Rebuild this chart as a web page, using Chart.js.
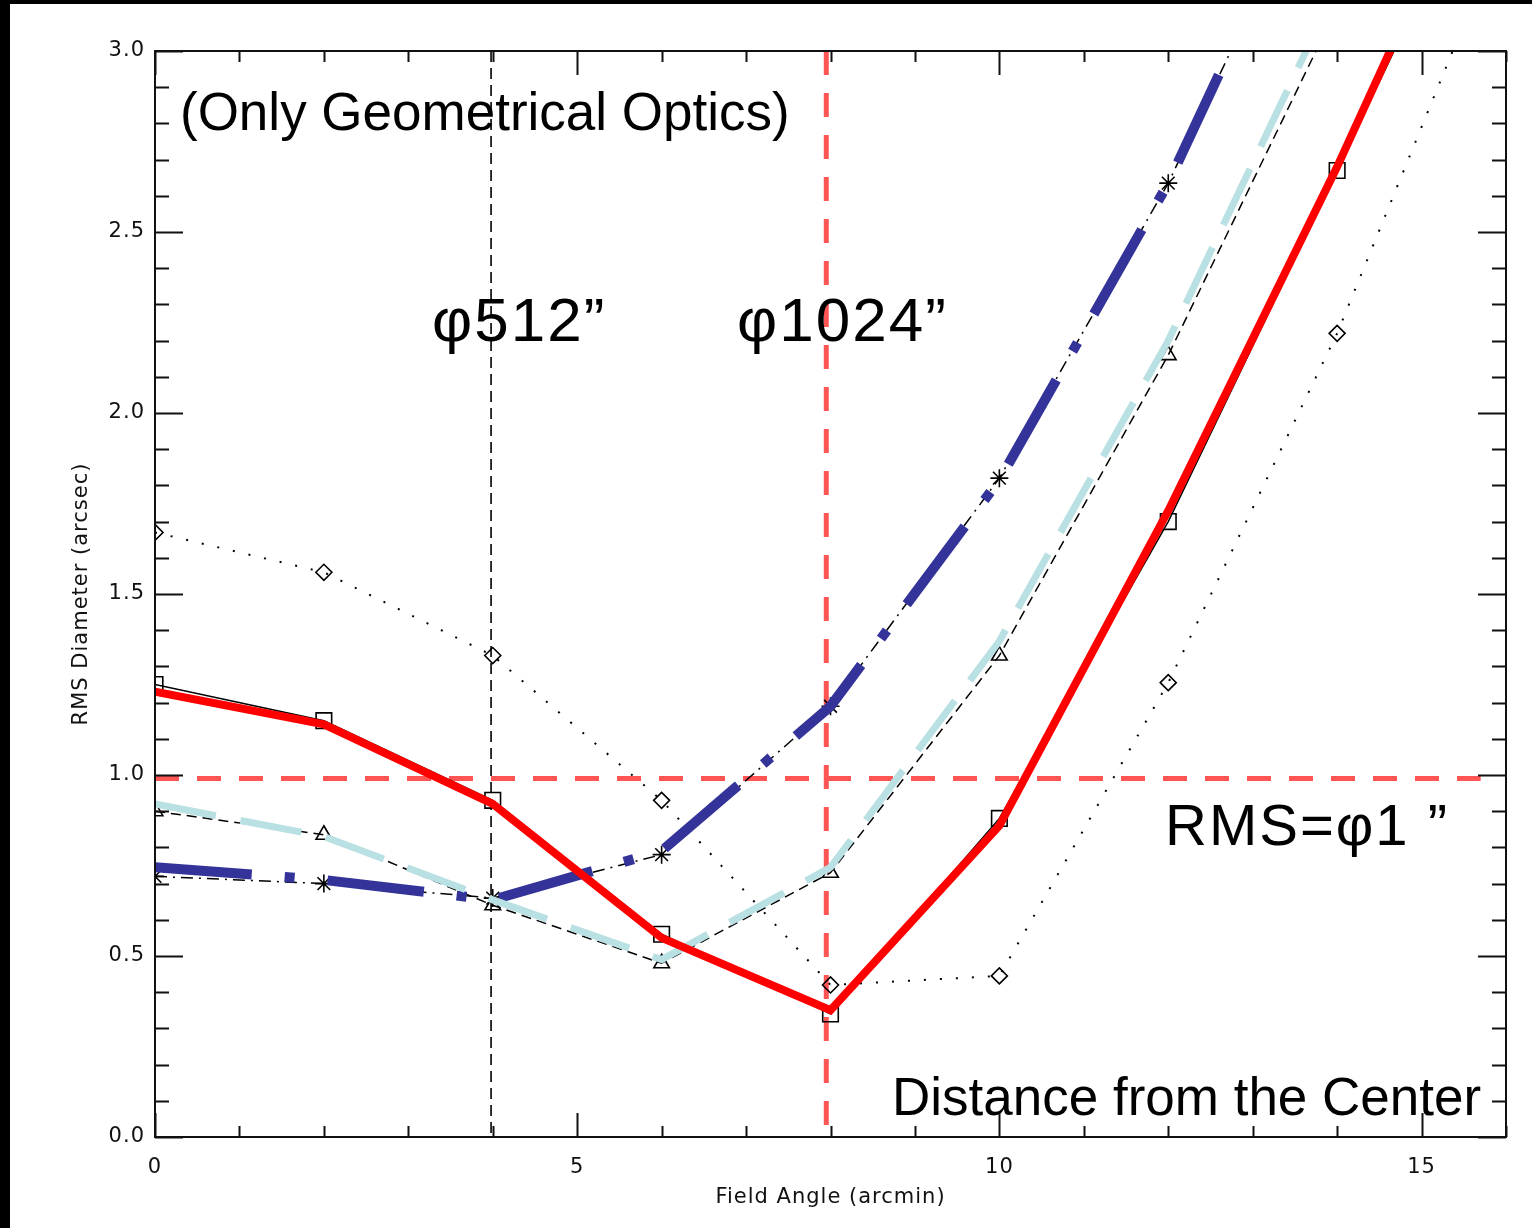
<!DOCTYPE html>
<html>
<head>
<meta charset="utf-8">
<script src="https://cdn.jsdelivr.net/npm/chart.js@4.4.1/dist/chart.umd.min.js"></script>
<style>
  html, body { margin: 0; padding: 0; background: #ffffff; }
  canvas { display: block; }
</style>
</head>
<body>
<canvas id="c" width="1532" height="1228"></canvas>
<script>
// ---------- data ----------
const fieldAngles = [0, 2, 4, 6, 8, 10, 12, 14, 16];

// black reference series with symbols
const squaresRMS   = [1.25, 1.15, 0.93, 0.56, 0.34, 0.88, 1.70, 2.67, 3.65];
const trianglesRMS = [0.90, 0.835, 0.64, 0.48, 0.73, 1.33, 2.16, 3.12, 4.1];
const asterisksRMS = [0.72, 0.70, 0.66, 0.78, 1.19, 1.82, 2.635, 3.62, 4.6];
const diamondsRMS  = [1.67, 1.56, 1.33, 0.93, 0.42, 0.445, 1.255, 2.22, 3.36];

// coloured overlay curves
const redRMS       = [1.23, 1.14, 0.92, 0.55, 0.35, 0.86, 1.73, 2.68, 3.70];
const lightBlueRMS = [0.92, 0.83, 0.655, 0.49, 0.745, 1.37, 2.20, 3.18, 4.2];
const darkBlueRMS  = [0.745, 0.71, 0.655, 0.79, 1.19, 1.815, 2.635, 3.635, 4.6];

// guide lines
const limitRMS      = [0.99, 0.99];
const limitRange    = [0, 15.7];
const field512X     = [3.98, 3.98];
const field1024X    = [7.95, 7.95];
const verticalRange = [3, 0];

// axis tick settings
const xMin = 0, xMax = 16, xStep = 1, xMajorEvery = 5;
const yMin = 0, yMax = 3, yStep = 0.1, yMajorEvery = 0.5;

// annotation texts
const annotations = [
  { text: '(Only Geometrical Optics)', x: 180, y: 130, size: 53, spacing: 0 },
  { text: 'φ512”', x: 432, y: 341, size: 62, spacing: 2 },
  { text: 'φ1024”', x: 737, y: 341, size: 62, spacing: 2 },
  { text: 'RMS=φ1 ”', x: 1165, y: 845, size: 58, spacing: 2 },
  { text: 'Distance from the Center', x: 892, y: 1115, size: 53, spacing: 0 }
];

// ---------- helpers ----------
const pts = (xs, ys) => xs.map((x, i) => ({ x: x, y: ys[i] }));
const isMultiple = (v, m) => Math.abs(v / m - Math.round(v / m)) < 1e-6;

const blackSeries = (data, style, radius, dash, width) => ({
  data: pts(fieldAngles, data),
  borderColor: '#000000',
  borderWidth: width,
  borderDash: dash,
  pointStyle: style,
  pointRadius: radius,
  pointBorderWidth: 1.6,
  pointBorderColor: '#000000',
  pointBackgroundColor: 'rgba(0,0,0,0)',
  fill: false,
  tension: 0,
  clip: 0,
  order: 2
});

const colourSeries = (data, colour, width, dash) => ({
  data: pts(fieldAngles, data),
  borderColor: colour,
  borderWidth: width,
  borderDash: dash,
  borderCapStyle: 'butt',
  borderJoinStyle: 'miter',
  pointRadius: 0,
  fill: false,
  tension: 0,
  clip: 0,
  order: 1
});

const guide = (xs, ys, colour, width, dash) => ({
  data: pts(xs, ys),
  borderColor: colour,
  borderWidth: width,
  borderDash: dash,
  borderCapStyle: 'butt',
  pointRadius: 0,
  fill: false,
  clip: 0,
  order: 3
});

const datasets = [
  guide(limitRange, limitRMS, '#ff5555', 5, [24, 18]),
  guide(field512X, verticalRange, '#000000', 1.6, [11, 6]),
  guide(field1024X, verticalRange, '#ff5555', 5, [24, 18]),
  blackSeries(squaresRMS, 'rect', 11, [], 1.5),
  blackSeries(trianglesRMS, 'triangle', 9, [10, 6], 1.5),
  blackSeries(asterisksRMS, 'star', 9, [12, 6, 2, 6], 1.5),
  blackSeries(diamondsRMS, 'rectRot', 8, [2, 14], 2),
  colourSeries(redRMS, '#ff0000', 8, []),
  colourSeries(lightBlueRMS, '#b9e0e3', 7, [62, 25]),
  colourSeries(darkBlueRMS, '#333399', 10, [97, 33, 10, 33])
];

// ---------- plugins ----------
const framePlugin = {
  id: 'frame',
  beforeDraw(chart) {
    const ctx = chart.ctx;
    ctx.save();
    ctx.fillStyle = '#ffffff';
    ctx.fillRect(0, 0, chart.width, chart.height);
    ctx.fillStyle = '#000000';
    ctx.fillRect(0, 0, chart.width, 4);
    ctx.fillRect(0, 0, 10, chart.height);
    ctx.restore();
    ctx.letterSpacing = '1px';
  },
  beforeDatasetsDraw(chart) {
    chart.ctx.letterSpacing = '0px';
  },
  afterDraw(chart) {
    const { ctx, chartArea: a, scales } = chart;
    const xs = scales.x, ys = scales.y;
    ctx.save();
    ctx.letterSpacing = '0px';
    ctx.strokeStyle = '#111111';
    ctx.lineWidth = 2;
    ctx.strokeRect(a.left, a.top, a.right - a.left, a.bottom - a.top);
    ctx.beginPath();
    xs.ticks.forEach(t => {
      const px = Math.round(xs.getPixelForValue(t.value)) + 0.5;
      const len = isMultiple(t.value, xMajorEvery) ? 24 : 11;
      ctx.moveTo(px, a.bottom); ctx.lineTo(px, a.bottom - len);
      ctx.moveTo(px, a.top); ctx.lineTo(px, a.top + len);
    });
    ys.ticks.forEach(t => {
      const py = Math.round(ys.getPixelForValue(t.value)) + 0.5;
      const len = isMultiple(t.value, yMajorEvery) ? 28 : 14;
      ctx.moveTo(a.left, py); ctx.lineTo(a.left + len, py);
      ctx.moveTo(a.right, py); ctx.lineTo(a.right - len, py);
    });
    ctx.stroke();

    ctx.fillStyle = '#000000';
    ctx.textAlign = 'left';
    ctx.textBaseline = 'alphabetic';
    annotations.forEach(n => {
      ctx.font = n.size + 'px "Liberation Sans", Arial, sans-serif';
      ctx.letterSpacing = n.spacing + 'px';
      ctx.fillText(n.text, n.x, n.y);
    });
    ctx.restore();
  }
};

const tickFont = { family: '"DejaVu Sans", sans-serif', size: 21 };
const titleFont = { family: '"DejaVu Sans", sans-serif', size: 21 };

new Chart(document.getElementById('c'), {
  type: 'line',
  data: { datasets: datasets },
  plugins: [framePlugin],
  options: {
    responsive: false,
    animation: false,
    devicePixelRatio: 1,
    layout: { padding: { top: 51, right: 26, left: 0, bottom: 0 } },
    plugins: { legend: { display: false }, tooltip: { enabled: false } },
    scales: {
      x: {
        type: 'linear',
        min: xMin, max: xMax,
        grid: { display: false, drawTicks: false },
        border: { display: false },
        ticks: {
          stepSize: xStep, autoSkip: false, maxRotation: 0,
          color: '#111111', font: tickFont, padding: 18,
          callback: v => isMultiple(v, xMajorEvery) ? String(Math.round(v)) : ''
        },
        title: {
          display: true, text: 'Field Angle (arcmin)', color: '#111111',
          font: titleFont, padding: { top: 0, bottom: 18 }
        },
        afterFit: s => { s.height = 91; }
      },
      y: {
        type: 'linear',
        min: yMin, max: yMax,
        grid: { display: false, drawTicks: false },
        border: { display: false },
        ticks: {
          stepSize: yStep, autoSkip: false,
          color: '#111111', font: tickFont, padding: 10,
          callback: v => isMultiple(v, yMajorEvery) ? v.toFixed(1) : ''
        },
        title: {
          display: true, text: 'RMS Diameter (arcsec)', color: '#111111',
          font: titleFont, padding: { top: 69, bottom: 0 }
        },
        afterFit: s => { s.width = 155; }
      }
    }
  }
});
</script>
</body>
</html>
